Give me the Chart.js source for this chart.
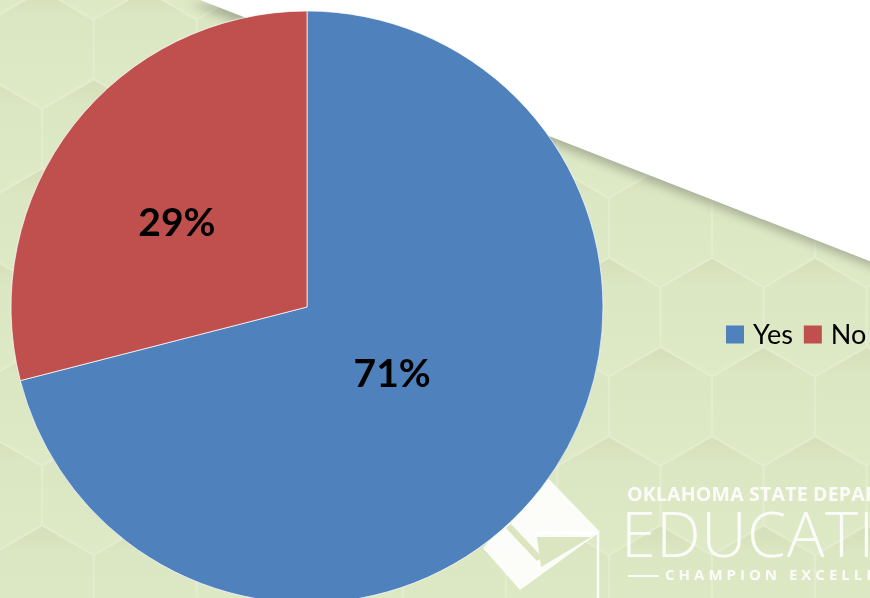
<!DOCTYPE html>
<html>
<head>
<meta charset="utf-8">
<title>Yes / No</title>
<script src="https://cdn.jsdelivr.net/npm/chart.js@4.4.1/dist/chart.umd.min.js"></script>
<style>
  html, body { margin: 0; padding: 0; width: 870px; height: 598px; overflow: hidden; background: #dde8c4; }
  #stage { position: relative; width: 870px; height: 598px; overflow: hidden; }
  #bg { position: absolute; left: 0; top: 0; }
  .brand { position: absolute; color: #fff; font-family: "Open Sans", sans-serif; white-space: nowrap; opacity: 0.9; line-height: 1; }
  #wrap { position: absolute; left: 0; top: 0; width: 870px; height: 598px; }
</style>
</head>
<body>
<div id="stage">
  <svg id="bg" width="870" height="598" xmlns="http://www.w3.org/2000/svg">
    <defs>
      <linearGradient id="hexFill" x1="0" y1="0" x2="0" y2="1">
        <stop offset="0" stop-color="#d5e0ba"/>
        <stop offset="0.22" stop-color="#dbe6c2"/>
        <stop offset="1" stop-color="#dee9c6"/>
      </linearGradient>
      <filter id="soft" x="-20%" y="-20%" width="140%" height="140%">
        <feGaussianBlur stdDeviation="5"/>
      </filter>
    </defs>
    <rect width="870" height="598" fill="#e3ecce"/>
    <g id="hexes"></g>
    <polygon points="190,4 880,4 880,270" fill="#6a7163" opacity="0.45" filter="url(#soft)"/>
    <polygon points="195,-2 872,-2 872,262" fill="#ffffff"/>
    <g fill="#ffffff" opacity="0.9">
      <polygon points="547,477 600,532 520,590 483,548"/>
    </g>
    <g fill="#dbe6c1">
      <polygon points="537,537 591,537 541,567"/>
      <polygon points="506,528 511,524 542,557 537,561"/>
    </g>
    <g stroke="#ffffff" stroke-width="2.5" opacity="0.9">
      <line x1="534" y1="533" x2="598" y2="533"/>
      <line x1="598" y1="533" x2="598" y2="600"/>
    </g>
  </svg>
  <div class="brand" style="left:627px;top:484px;font-weight:700;font-size:19.5px;letter-spacing:0.2px;">OKLAHOMA STATE DEPARTMENT OF</div>
  <div class="brand" style="left:621px;top:501px;font-weight:300;font-size:63px;letter-spacing:0.5px;">EDUCATION</div>
  <div class="brand" style="left:628px;top:567px;font-weight:700;font-size:15px;letter-spacing:4px;"><span style="display:inline-block;width:31px;height:2px;background:#fff;vertical-align:middle;margin-right:6px;"></span>CHAMPION EXCELLENCE</div>
  <div id="wrap"><canvas id="chart" width="870" height="598"></canvas></div>
</div>

<script>
// Survey answers
const categories = ['Yes', 'No'];
const shares = [71, 29];
const sliceColors = ['#4f81bd', '#c0504d'];

// Honeycomb backdrop
(function drawHexes() {
  const ns = 'http://www.w3.org/2000/svg';
  const g = document.getElementById('hexes');
  const S = 59.5, W = Math.sqrt(3) * S, ROW = 1.5 * S;
  const CX0 = 712, CY0 = 317, inset = 1.3;
  for (let r = -5; r <= 5; r++) {
    const cy = CY0 + r * ROW;
    const off = (Math.abs(r) % 2) * W / 2;
    for (let c = -9; c <= 3; c++) {
      const cx = CX0 + c * W + off;
      const pts = [];
      for (let k = 0; k < 6; k++) {
        const a = (-90 + 60 * k) * Math.PI / 180;
        pts.push((cx + (S - inset) * Math.cos(a)).toFixed(1) + ',' + (cy + (S - inset) * Math.sin(a)).toFixed(1));
      }
      const p = document.createElementNS(ns, 'polygon');
      p.setAttribute('points', pts.join(' '));
      p.setAttribute('fill', 'url(#hexFill)');
      g.appendChild(p);
    }
  }
})();

// Percent labels placed along each slice's bisector
const pctLabels = {
  id: 'pctLabels',
  afterDatasetsDraw(chart, args, opts) {
    const ctx = chart.ctx;
    const meta = chart.getDatasetMeta(0);
    ctx.save();
    ctx.font = `bold ${opts.size}px ${opts.family}`;
    ctx.fillStyle = opts.color;
    ctx.textAlign = 'center';
    ctx.textBaseline = 'alphabetic';
    meta.data.forEach((arc, i) => {
      const { x, y, startAngle, endAngle, outerRadius } = arc.getProps(['x', 'y', 'startAngle', 'endAngle', 'outerRadius'], true);
      const mid = (startAngle + endAngle) / 2 + opts.angleShift[i] * Math.PI / 180;
      const r = outerRadius * opts.radial[i];
      const tx = x + r * Math.cos(mid);
      const ty = y + r * Math.sin(mid);
      ctx.fillText(chart.data.datasets[0].data[i] + '%', tx, ty + opts.size * 0.36);
    });
    ctx.restore();
  }
};

// Single-row legend beside the pie
const rowLegend = {
  id: 'rowLegend',
  afterDraw(chart, args, opts) {
    const ctx = chart.ctx;
    const items = chart.options.plugins.legend.labels.generateLabels(chart);
    ctx.save();
    ctx.font = `${opts.size}px ${opts.family}`;
    ctx.textAlign = 'left';
    ctx.textBaseline = 'alphabetic';
    let x = opts.x;
    items.forEach(it => {
      ctx.fillStyle = it.fillStyle;
      ctx.fillRect(x, opts.y - opts.box / 2, opts.box, opts.box);
      x += opts.box + opts.gap;
      ctx.fillStyle = opts.color;
      ctx.fillText(it.text, x, opts.y + opts.size * 0.36);
      x += ctx.measureText(it.text).width + opts.itemGap;
    });
    ctx.restore();
  }
};

new Chart(document.getElementById('chart'), {
  type: 'pie',
  data: {
    labels: categories,
    datasets: [{
      data: shares,
      backgroundColor: sliceColors,
      borderColor: 'rgba(255,255,255,0.7)',
      borderWidth: 1,
      clip: false
    }]
  },
  options: {
    responsive: false,
    devicePixelRatio: 1,
    animation: false,
    radius: 296,
    rotation: 0,
    layout: { padding: { left: 0, right: 256, top: 16, bottom: 0 } },
    events: [],
    plugins: {
      legend: { display: false },
      tooltip: { enabled: false },
      pctLabels: { size: 39, family: 'Lato, sans-serif', color: '#000', radial: [0.364, 0.525], angleShift: [0, -4.6] },
      rowLegend: { x: 726, y: 334.5, box: 18, gap: 9, itemGap: 11, size: 27, family: 'Lato, sans-serif', color: '#000' }
    }
  },
  plugins: [pctLabels, rowLegend]
});
</script>
</body>
</html>
